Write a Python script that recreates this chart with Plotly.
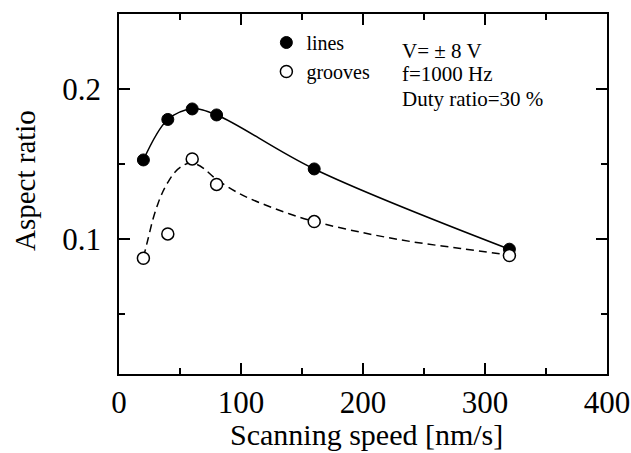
import plotly.graph_objects as go

# Measured data
speed = [20, 40, 60, 80, 160, 320]
lines_ratio = [0.153, 0.180, 0.187, 0.183, 0.147, 0.0935]
grooves_ratio = [0.0875, 0.1037, 0.1537, 0.1367, 0.1119, 0.0893]

# Dashed guide curve for grooves
groove_fit_x = [20, 24, 28, 32, 36, 40, 46, 52, 58, 64, 70, 80, 100, 120, 140, 160, 200, 240, 280, 320]
groove_fit_y = [0.088, 0.101, 0.114, 0.124, 0.132, 0.138, 0.145, 0.149, 0.151, 0.150, 0.147, 0.140,
                0.130, 0.123, 0.117, 0.112, 0.1045, 0.0985, 0.094, 0.0895]

x_ticks = [0, 100, 200, 300, 400]
y_ticks = [0.1, 0.2]
y_tick_labels = ["0.1", "0.2"]
condition_lines = ["V= \u00b1 8 V", "f=1000 Hz", "Duty ratio=30 %"]
x_title = "Scanning speed [nm/s]"
y_title = "Aspect ratio"

FONT = "Liberation Serif, Times New Roman, serif"

fig = go.Figure()
fig.add_trace(go.Scatter(x=speed, y=lines_ratio, mode="lines", line=dict(color="black", width=1.5, shape="spline"),
                         showlegend=False, hoverinfo="skip"))
fig.add_trace(go.Scatter(x=groove_fit_x, y=groove_fit_y, mode="lines",
                         line=dict(color="black", width=1.5, shape="spline", dash="8px,5px"),
                         showlegend=False, hoverinfo="skip"))
fig.add_trace(go.Scatter(x=speed, y=lines_ratio, mode="markers", name="lines",
                         marker=dict(symbol="circle", size=12, color="black", line=dict(color="black", width=1))))
fig.add_trace(go.Scatter(x=speed, y=grooves_ratio, mode="markers", name="grooves",
                         marker=dict(symbol="circle", size=12, color="white", line=dict(color="black", width=1.5))))

axis_common = dict(showgrid=False, zeroline=False, showline=True, linecolor="black", linewidth=1.5,
                   mirror="ticks", ticks="inside", ticklen=11, tickwidth=1.5, tickcolor="black",
                   automargin=False, ticklabeloverflow="allow",
                   tickfont=dict(family=FONT, size=31, color="black"))

fig.update_xaxes(range=[0, 400], tickvals=x_ticks, ticktext=[str(v) for v in x_ticks],
                 minor=dict(ticks="inside", ticklen=6, tickwidth=1.5, tickcolor="black", dtick=50, tick0=0),
                 ticklabelstandoff=0,
                 **axis_common)
fig.update_yaxes(range=[0.0103, 0.2503], tickvals=y_ticks, ticktext=y_tick_labels,
                 minor=dict(ticks="inside", ticklen=6, tickwidth=1.5, tickcolor="black", dtick=0.05, tick0=0),
                 ticklabelstandoff=10,
                 **axis_common)

# axis titles
fig.add_annotation(text=x_title, x=0.508, y=-0.168, xref="paper", yref="paper", xanchor="center", yanchor="middle",
                   showarrow=False, borderpad=0, font=dict(family=FONT, size=30, color="black"))
fig.add_annotation(text=y_title, x=-0.1926, y=0.536, xref="paper", yref="paper", xanchor="center", yanchor="middle",
                   textangle=-90, showarrow=False, font=dict(family=FONT, size=29, color="black"))

ys = [0.897, 0.832, 0.765]
for txt, yy in zip(condition_lines, ys):
    fig.add_annotation(text=txt, x=0.575, y=yy, xref="paper", yref="paper", xanchor="left", yanchor="middle",
                       showarrow=False, font=dict(family=FONT, size=21, color="black"))

fig.update_layout(
    width=631, height=453,
    margin=dict(l=119, r=24, t=14, b=79),
    paper_bgcolor="white", plot_bgcolor="white",
    legend=dict(x=0.302, y=0.975, xanchor="left", yanchor="top", bgcolor="rgba(0,0,0,0)",
                font=dict(family=FONT, size=20, color="black"), itemwidth=30, tracegroupgap=0),
    font=dict(family=FONT, color="black"),
)

fig.write_html("out.html", config={"displayModeBar": False},
               post_script="document.body.style.margin='0';document.body.style.padding='0';")
